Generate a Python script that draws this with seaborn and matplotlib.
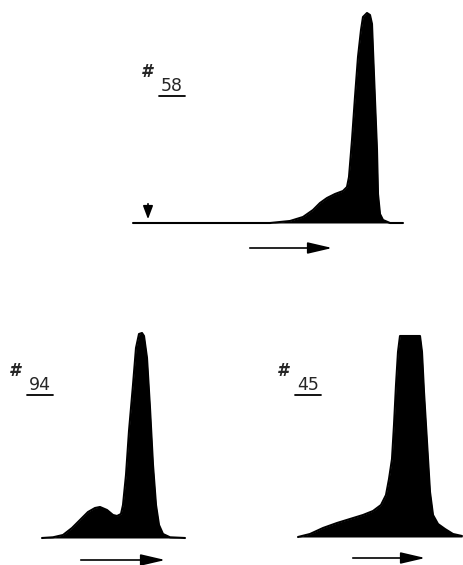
import matplotlib
matplotlib.use('Agg')
import matplotlib.pyplot as plt
import seaborn as sns

# Elution profiles (position / absorbance, arbitrary units)

pos_58 = [0, 137, 157, 170, 180, 187, 194, 202, 210, 214, 216, 219, 222, 225, 228, 230,
          234, 237, 239, 240, 242, 244, 245, 247, 250, 257, 270]
abs_58 = [0, 0, 2, 6, 13, 20, 25, 29, 32, 36, 46, 83, 126, 166, 193, 206,
          210, 208, 199, 173, 123, 73, 29, 9, 3, 0, 0]

pos_94 = [0, 11, 21, 30, 38, 46, 53, 58, 65, 71, 75, 79, 81, 84, 87, 91, 94, 97, 100,
          102, 105, 108, 111, 114, 117, 121, 128, 143]
abs_94 = [0, 0.7, 3, 10, 18, 26, 30, 31, 28, 23, 22, 24, 33, 63, 107, 153, 190, 204, 205,
          202, 180, 130, 73, 33, 13, 4, 0.7, 0]

pos_45 = [0, 12, 25, 39, 52, 65, 75, 83, 88, 91, 94, 96, 98, 100, 102, 122, 124, 126,
          129, 132, 135, 140, 147, 155, 164]
abs_45 = [0, 3, 9, 14, 18, 22, 26, 32, 42, 58, 78, 112, 152, 185, 201, 201, 185, 145,
          95, 45, 22, 13, 8, 3, 1]

labels = ['58', '94', '45']

W, H = 464, 565
fig = plt.figure(figsize=(W / 100, H / 100), dpi=100)
sns.set_style('white')
plt.rcParams['font.family'] = ['DejaVu Sans']


def panel_axes(x0, y0, xlim, ylim):
    # x0, y0: pixel position of the baseline origin; 1 data unit = 1 pixel
    left = (x0 + xlim[0]) / W
    bottom = (H - y0 + ylim[0]) / H
    ax = fig.add_axes([left, bottom, (xlim[1] - xlim[0]) / W, (ylim[1] - ylim[0]) / H])
    ax.set_xlim(*xlim)
    ax.set_ylim(*ylim)
    ax.axis('off')
    return ax


def draw_profile(ax, pos, vals):
    sns.lineplot(x=pos, y=vals, ax=ax, color='black', linewidth=1.5, sort=False)
    ax.fill_between(pos, 0, vals, color='black', linewidth=0)


def draw_label(ax, txt, x, y):
    ax.text(x - 25, y + 14, '#', fontsize=12, fontweight='bold', fontstyle='italic',
            ha='center', va='center')
    ax.text(x, y, txt, fontsize=12.5, ha='center', va='center')
    ax.plot([x - 13, x + 13], [y - 10, y - 10], color='black', linewidth=1.3)


def flow_arrow(ax, x1, x2, y):
    ax.annotate('', xy=(x2, y), xytext=(x1, y),
                arrowprops=dict(arrowstyle='-|>,head_length=1.5,head_width=0.35',
                                mutation_scale=10, color='black', linewidth=1.2),
                annotation_clip=False)


# top panel
ax1 = panel_axes(133, 223, (-10, 280), (-40, 215))
draw_profile(ax1, pos_58, abs_58)
ax1.annotate('', xy=(15, 1), xytext=(15, 22),
             arrowprops=dict(arrowstyle='-|>,head_length=0.8,head_width=0.3',
                             mutation_scale=10, color='black', linewidth=1.2))
draw_label(ax1, labels[0], 39, 137)
flow_arrow(ax1, 114, 202, -25)

# bottom left
ax2 = panel_axes(42, 538, (-40, 150), (-30, 210))
draw_profile(ax2, pos_94, abs_94)
draw_label(ax2, labels[1], -2, 153)
flow_arrow(ax2, 36, 126, -22)

# bottom right
ax3 = panel_axes(298, 537, (-20, 166), (-30, 210))
draw_profile(ax3, pos_45, abs_45)
draw_label(ax3, labels[2], 10, 152)
flow_arrow(ax3, 52, 130, -21)

fig.savefig('out.png', dpi=100)
